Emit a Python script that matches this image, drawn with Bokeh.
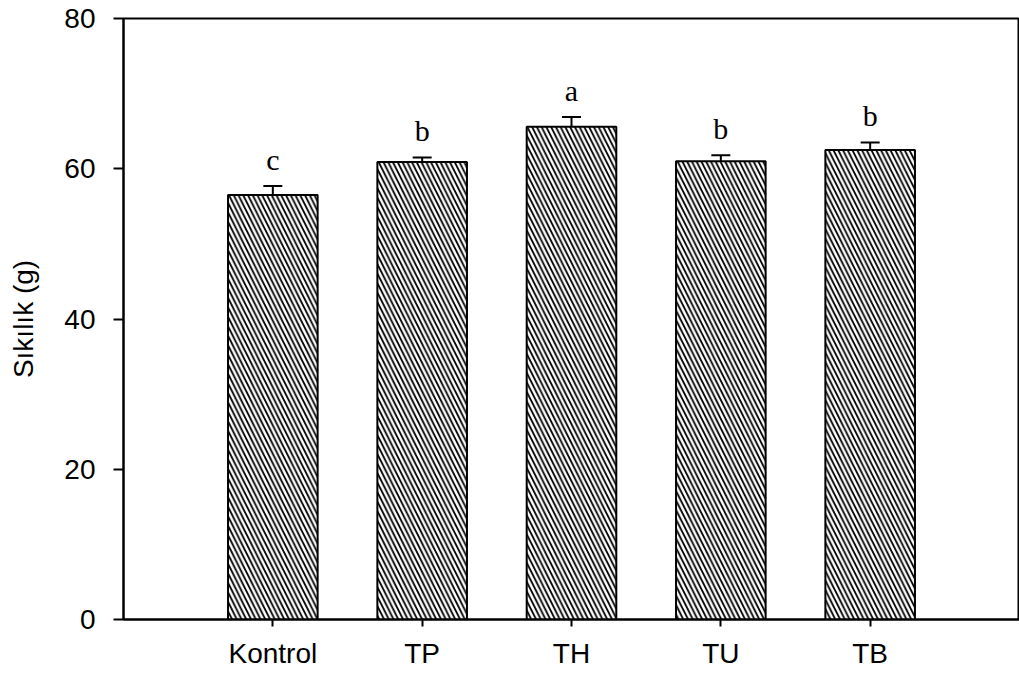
from bokeh.plotting import figure
from bokeh.models import Range1d, FixedTicker, Whisker, TeeHead, ColumnDataSource
from bokeh.embed import file_html
from bokeh.resources import INLINE
from bokeh.core.properties import value

categories = ["Kontrol", "TP", "TH", "TU", "TB"]
means = [56.5, 60.9, 65.6, 61.0, 62.5]
errors = [1.2, 0.6, 1.3, 0.8, 1.0]
letters = ["c", "b", "a", "b", "b"]
y_ticks = [0, 20, 40, 60, 80]

x = list(range(1, len(categories) + 1))
upper = [m + e for m, e in zip(means, errors)]
src = ColumnDataSource(dict(x=x, top=means, upper=upper, letter=letters))

p = figure(width=1019, height=675, output_backend="svg", toolbar_location=None,
           x_range=Range1d(0, 6), y_range=Range1d(0, 80),
           min_border_left=123, min_border_right=0, min_border_top=18,
           min_border_bottom=56)
p.grid.visible = False
p.outline_line_color = "black"
p.outline_line_width = 2
p.outline_line_alpha = 1.0
p.background_fill_color = "white"
p.border_fill_color = "white"

p.vbar(x="x", top="top", bottom=0, width=0.6, source=src,
       fill_color="white", line_color="black", line_width=2,
       hatch_pattern="\\", hatch_scale=9.5, hatch_weight=1.8, hatch_color="black")

wh = Whisker(base="x", upper="upper", lower="top", source=src, dimension="height",
             line_color="black", line_width=2,
             upper_head=TeeHead(size=19, line_width=2, line_color="black"),
             lower_head=None)
p.add_layout(wh)

p.text(x="x", y="upper", text="letter", source=src,
       text_font=value("Liberation Serif"), text_font_size="30px",
       text_align="center", text_baseline="bottom", y_offset=-10,
       text_color="black")

font = "Liberation Sans"
for ax in (p.xaxis[0], p.yaxis[0]):
    ax.axis_line_width = 2
    ax.axis_line_color = "black"
    ax.major_tick_line_width = 2
    ax.major_tick_line_color = "black"
    ax.major_tick_in = 0
    ax.minor_tick_line_color = None
    ax.major_label_text_font = font
    ax.major_label_text_font_size = "28px"
    ax.major_label_text_color = "black"

p.xaxis.ticker = FixedTicker(ticks=x)
p.xaxis.major_label_overrides = {i: c for i, c in zip(x, categories)}
p.xaxis.major_tick_out = 7
p.xaxis.major_label_standoff = 11

p.yaxis.ticker = FixedTicker(ticks=y_ticks)
p.yaxis.major_tick_out = 10
p.yaxis.major_label_standoff = 18
p.yaxis.axis_label = "Sıkılık (g)"
p.yaxis.axis_label_text_font = font
p.yaxis.axis_label_text_font_size = "28px"
p.yaxis.axis_label_text_font_style = "normal"
p.yaxis.axis_label_text_color = "black"
p.yaxis.axis_label_standoff = 22

open("out.html", "w").write(file_html(p, INLINE))
